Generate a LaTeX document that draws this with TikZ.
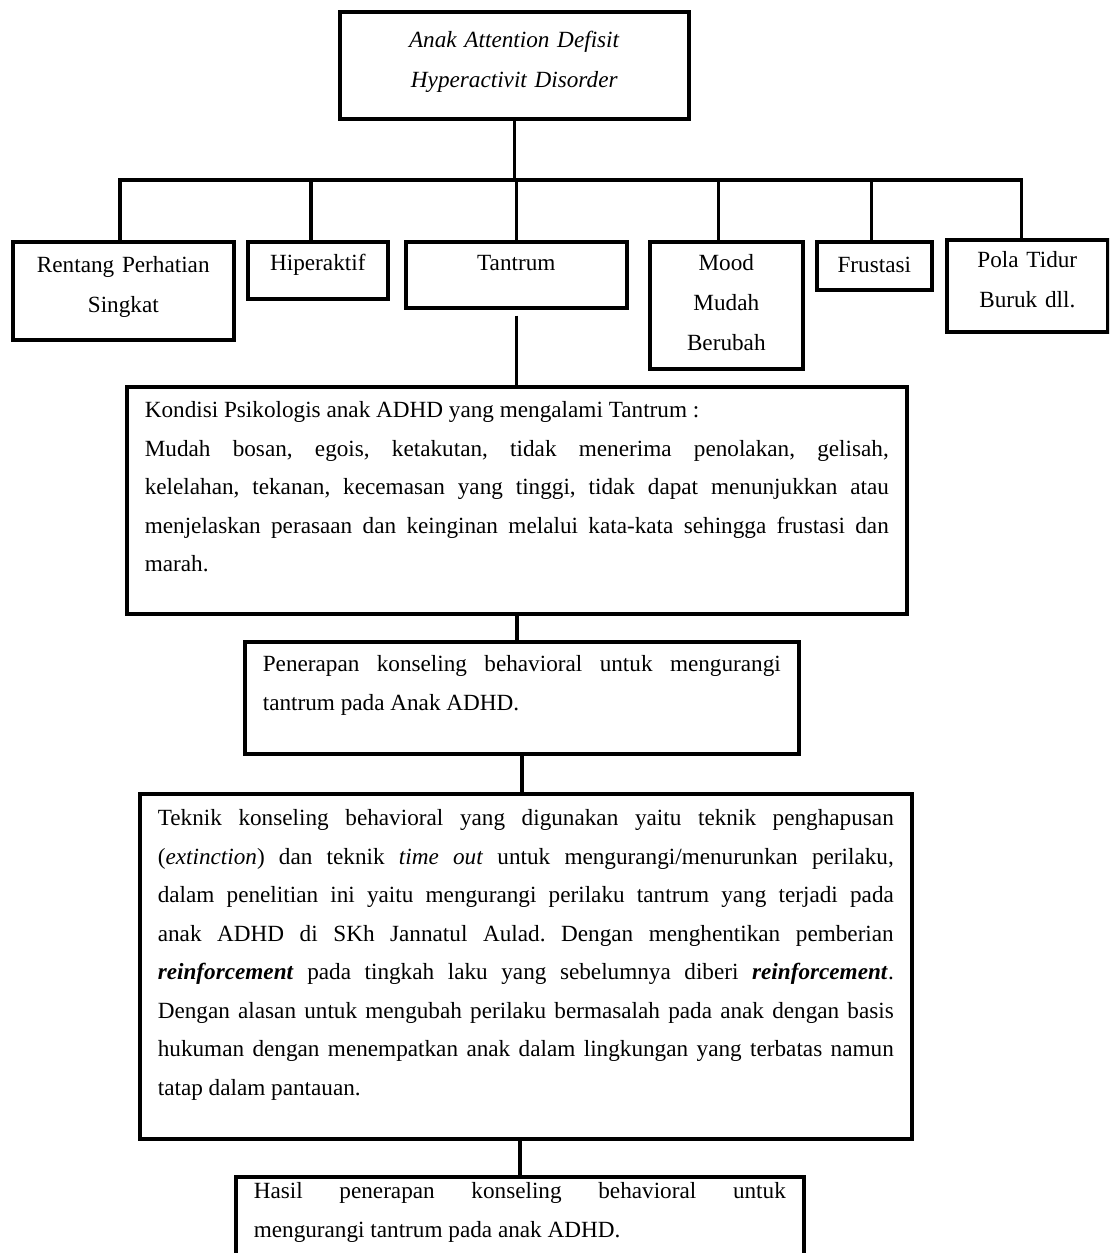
\documentclass[tikz,border=0pt]{standalone}
\usepackage{fontspec}
\setmainfont{Liberation Serif}
\usetikzlibrary{calc}
\tolerance=9999
\hyphenpenalty=10000
\exhyphenpenalty=10000
\frenchspacing

\begin{document}
\begin{tikzpicture}[
      x=0.5pt, y=-0.5pt,
      box/.style={draw, line width=1.8pt, anchor=north west, inner xsep=9pt, inner ysep=3pt},
      box_small/.style={box, align=center, font=\fontsize{11.6}{20}\selectfont},
      box_text/.style={box, align=justify, font=\fontsize{11.6}{19.25}\selectfont},
      link/.style={line width=1.8pt},
    ]
    \clip (0,0) rectangle (1109,1253);
    % Draw the top box.
    \node[box_small, text width=156.5pt, text height=15pt, text depth=32.5pt] (B0) at (338,10)
        {\textit{Anak Attention Defisit}\\ \textit{Hyperactivit Disorder}};
    % Draw the row of symptoms.
    \node[box_small, text width=92.5pt, text height=12.5pt, text depth=30.5pt] (B1_a) at (11,240)
        {Rentang Perhatian\\ Singkat};
    \node[box_small, text width=52pt, text height=11.5pt, text depth=11pt] (B1_b) at (246,240) {Hiperaktif};
    \node[box_small, text width=92.5pt, text height=11.5pt, text depth=15.5pt] (B1_c) at (404,240) {Tantrum};
    \node[box_small, text width=58.5pt, text height=11.5pt, text depth=46pt] (B1_d) at (648,240)
        {Mood\\ Mudah\\ Berubah};
    \node[box_small, text width=39.5pt, text height=12.5pt, text depth=5.5pt] (B1_e) at (815,240) {Frustasi};
    \node[box_small, text width=62.5pt, text height=11pt, text depth=29pt] (B1_f) at (945,238)
        {Pola Tidur\\ Buruk dll.};
    % Draw the chain below Tantrum.
    \node[box_text, text width=372pt, text height=12.5pt, text depth=95pt] (B2) at (125,385)
        {Kondisi Psikologis anak ADHD yang mengalami Tantrum :\\
        Mudah bosan, egois, ketakutan, tidak menerima penolakan, gelisah,\linebreak
        kelelahan, tekanan, kecemasan yang tinggi, tidak dapat menunjukkan atau\linebreak
        menjelaskan perasaan dan keinginan melalui kata-kata sehingga frustasi dan\linebreak
        marah.};
    \node[box_text, text width=259pt, text height=12pt, text depth=38pt] (B3) at (243,640)
        {Penerapan konseling behavioral untuk mengurangi\linebreak tantrum pada Anak ADHD.};
    \node[box_text, text width=368pt, text height=13pt, text depth=153.5pt] (B4) at (138,792)
        {Teknik konseling behavioral yang digunakan yaitu teknik penghapusan\linebreak
        (\textit{extinction}) dan teknik \textit{time out} untuk mengurangi/menurunkan perilaku,\linebreak
        dalam penelitian ini yaitu mengurangi perilaku tantrum yang terjadi pada\linebreak
        anak ADHD di SKh Jannatul Aulad. Dengan menghentikan pemberian\linebreak
        \textbf{\textit{reinforcement}} pada tingkah laku yang sebelumnya diberi \textbf{\textit{reinforcement}}.\linebreak
        Dengan alasan untuk mengubah perilaku bermasalah pada anak dengan basis\linebreak
        hukuman dengan menempatkan anak dalam lingkungan yang terbatas namun\linebreak
        tatap dalam pantauan.};
    \node[box_text, text width=266pt, text height=8pt, text depth=56pt] (B5) at (234,1175)
        {Hasil penerapan konseling behavioral untuk\linebreak mengurangi tantrum pada anak ADHD.};

    % Draw the connectors.
    \coordinate (bus) at (515,180);
    \draw[link] (B0.south) -- (B0.south |- bus);
    \draw[link] ([xshift=-1.75pt]B1_a.north) |- ([xshift=-3pt]B1_f.north |- bus) -- ([xshift=-3pt]B1_f.north);
    \foreach \n/\s in {B1_b/-3.5, B1_c/0, B1_d/-4, B1_e/-1.5}
        \draw[link] ([xshift=\s pt]\n.north) -- ([xshift=\s pt]\n.north |- bus);
    \draw[link, shorten <=3pt] (B1_c.south) -- (B1_c.south |- B2.north);
    \draw[link] (B2.south) -- (B2.south |- B3.north);
    \draw[link] (B3.south) -- (B3.south |- B4.north);
    \draw[link] (B5.north) -- (B5.north |- B4.south);
\end{tikzpicture}
\end{document}
